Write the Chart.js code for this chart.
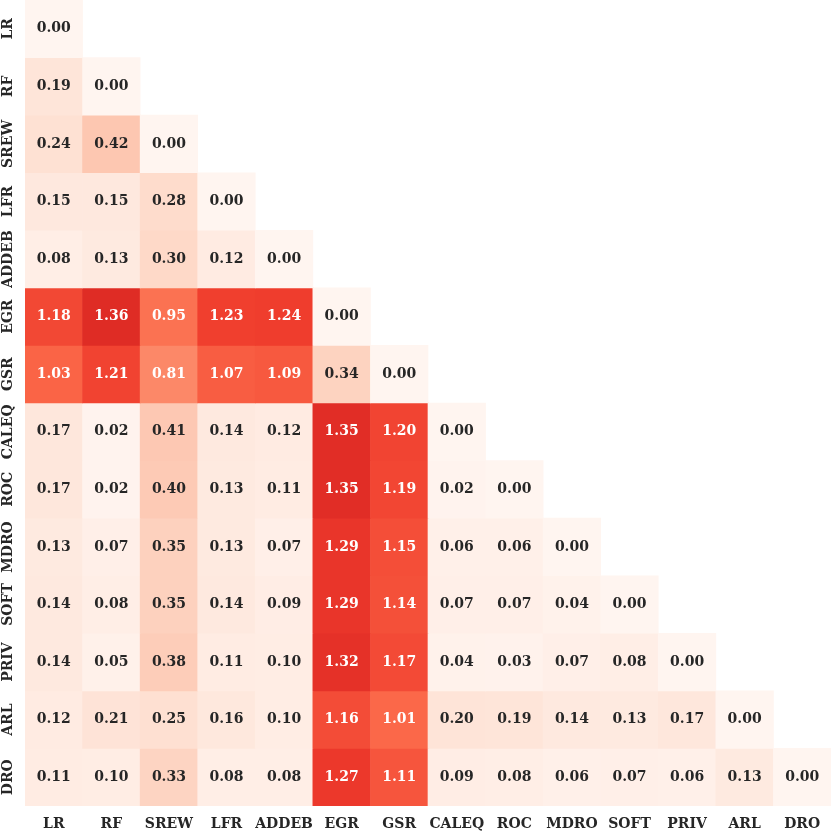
<!DOCTYPE html>
<html>
<head>
<meta charset="utf-8">
<script src="https://cdn.jsdelivr.net/npm/chart.js@4.4.1/dist/chart.umd.min.js"></script>
<style>
  html, body { margin: 0; padding: 0; background: #fff; }
  #wrap { width: 831px; height: 831px; }
</style>
</head>
<body>
<div id="wrap"><canvas id="heat"></canvas></div>
<script>
// Nomes dos métodos (linhas e colunas)
const labels = ["LR", "RF", "SREW", "LFR", "ADDEB", "EGR", "GSR", "CALEQ", "ROC", "MDRO", "SOFT", "PRIV", "ARL", "DRO"];

// Valores da matriz triangular inferior, uma linha por método
const lrRow = [0.00];
const rfRow = [0.19, 0.00];
const srewRow = [0.24, 0.42, 0.00];
const lfrRow = [0.15, 0.15, 0.28, 0.00];
const addebRow = [0.08, 0.13, 0.30, 0.12, 0.00];
const egrRow = [1.18, 1.36, 0.95, 1.23, 1.24, 0.00];
const gsrRow = [1.03, 1.21, 0.81, 1.07, 1.09, 0.34, 0.00];
const caleqRow = [0.17, 0.02, 0.41, 0.14, 0.12, 1.35, 1.20, 0.00];
const rocRow = [0.17, 0.02, 0.40, 0.13, 0.11, 1.35, 1.19, 0.02, 0.00];
const mdroRow = [0.13, 0.07, 0.35, 0.13, 0.07, 1.29, 1.15, 0.06, 0.06, 0.00];
const softRow = [0.14, 0.08, 0.35, 0.14, 0.09, 1.29, 1.14, 0.07, 0.07, 0.04, 0.00];
const privRow = [0.14, 0.05, 0.38, 0.11, 0.10, 1.32, 1.17, 0.04, 0.03, 0.07, 0.08, 0.00];
const arlRow = [0.12, 0.21, 0.25, 0.16, 0.10, 1.16, 1.01, 0.20, 0.19, 0.14, 0.13, 0.17, 0.00];
const droRow = [0.11, 0.10, 0.33, 0.08, 0.08, 1.27, 1.11, 0.09, 0.08, 0.06, 0.07, 0.06, 0.13, 0.00];

const rows = [lrRow, rfRow, srewRow, lfrRow, addebRow, egrRow, gsrRow, caleqRow, rocRow, mdroRow, softRow, privRow, arlRow, droRow];

const vmax = 2.0; // topo da escala de cor
const fontFamily = "'DejaVu Serif', serif";

// Paleta "Reds"
const reds = ["#fff5f0", "#fee0d2", "#fcbba1", "#fc9272", "#fb6a4a", "#ef3b2c", "#cb181d", "#a50f15", "#67000d"];

function hexToRgb(h) {
  return [parseInt(h.slice(1, 3), 16), parseInt(h.slice(3, 5), 16), parseInt(h.slice(5, 7), 16)];
}

function redsRgb(v) {
  let t = Math.max(0, Math.min(1, v / vmax)) * (reds.length - 1);
  let i = Math.min(Math.floor(t), reds.length - 2);
  let f = t - i;
  let a = hexToRgb(reds[i]), b = hexToRgb(reds[i + 1]);
  return a.map((c, k) => Math.round(c + (b[k] - c) * f));
}

function textColor(v) {
  // mesma regra do seaborn: luminância da célula
  const lin = redsRgb(v).map(c => {
    c /= 255;
    return c <= 0.03928 ? c / 12.92 : Math.pow((c + 0.055) / 1.055, 2.4);
  });
  const lum = 0.2126 * lin[0] + 0.7152 * lin[1] + 0.0722 * lin[2];
  return lum > 0.408 ? "#262626" : "#ffffff";
}

const n = labels.length;

// Um dataset por linha: barras flutuantes [n-1-j, n-j]
const datasets = rows.map((row, j) => ({
  label: labels[j],
  data: labels.map((_, i) => (i < row.length ? [n - 1 - j, n - j] : null)),
  values: labels.map((_, i) => (i < row.length ? row[i] : null)),
  backgroundColor: labels.map((_, i) => {
    if (i >= row.length) return "rgba(0,0,0,0)";
    const c = redsRgb(row[i]);
    return `rgb(${c[0]}, ${c[1]}, ${c[2]})`;
  }),
  borderWidth: 0,
  barPercentage: 1.0,
  categoryPercentage: 1.0,
  grouped: false,
}));

// Texto dentro das células
const cellText = {
  id: "cellText",
  afterDatasetsDraw(chart) {
    const ctx = chart.ctx;
    ctx.save();
    ctx.font = `bold 14px ${fontFamily}`;
    ctx.textAlign = "center";
    ctx.textBaseline = "middle";
    chart.data.datasets.forEach((ds, j) => {
      const meta = chart.getDatasetMeta(j);
      meta.data.forEach((el, i) => {
        const v = ds.values[i];
        if (v === null) return;
        const p = el.getProps(["x", "y", "base"], true);
        ctx.fillStyle = textColor(v);
        ctx.fillText(v.toFixed(2), p.x, (p.y + p.base) / 2);
      });
    });
    ctx.restore();
  },
};

// Rótulos do eixo y, girados
const yLabels = {
  id: "yLabels",
  afterDraw(chart) {
    const ctx = chart.ctx;
    const ys = chart.scales.y;
    ctx.save();
    ctx.font = `bold 14px ${fontFamily}`;
    ctx.fillStyle = "#262626";
    ctx.textAlign = "center";
    ctx.textBaseline = "alphabetic";
    labels.forEach((lab, j) => {
      const y = ys.getPixelForValue(n - 0.5 - j);
      ctx.save();
      ctx.translate(ys.right - 13, y);
      ctx.rotate(-Math.PI / 2);
      ctx.fillText(lab, 0, 0);
      ctx.restore();
    });
    ctx.restore();
  },
};

const ctx = document.getElementById("heat").getContext("2d");
const heat = new Chart(ctx, {
  type: "bar",
  data: { labels: labels, datasets: datasets },
  options: {
    responsive: true,
    maintainAspectRatio: false,
    animation: false,
    layout: { padding: 0 },
    plugins: {
      legend: { display: false },
      tooltip: { enabled: false },
    },
    scales: {
      x: {
        grid: { display: false },
        border: { display: false },
        ticks: {
          color: "#262626",
          font: { family: fontFamily, size: 14, weight: "bold" },
          padding: 2,
          maxRotation: 0,
          autoSkip: false,
        },
        afterFit(scale) { scale.height = 25; },
      },
      y: {
        min: 0,
        max: n,
        grid: { display: false },
        border: { display: false },
        ticks: { display: false },
        afterFit(scale) { scale.width = 25; },
      },
    },
  },
  plugins: [cellText, yLabels],
});
</script>
</body>
</html>
